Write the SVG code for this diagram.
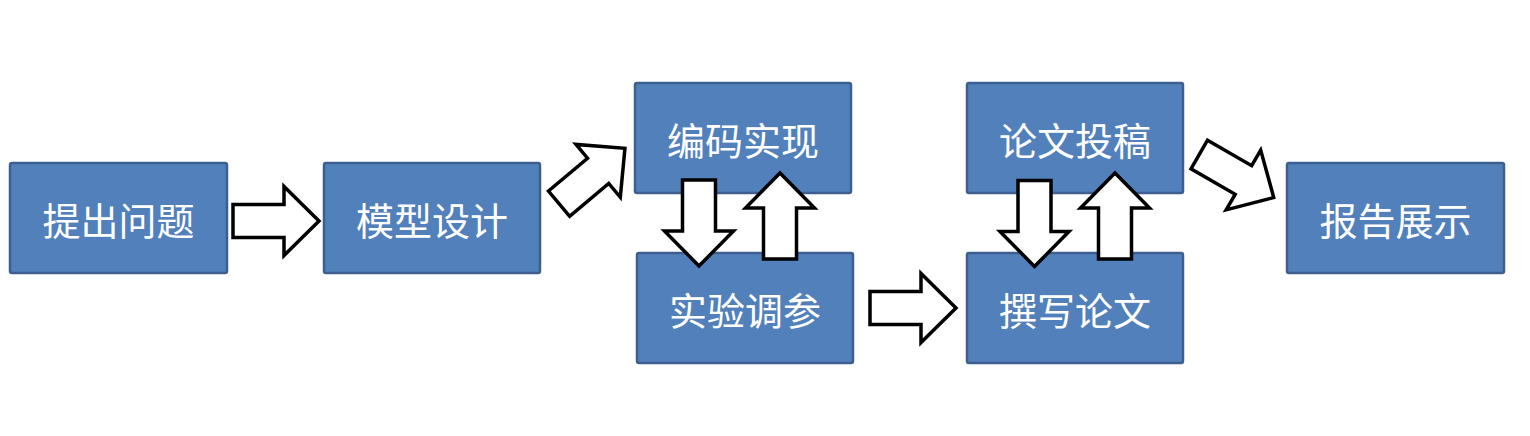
<svg xmlns="http://www.w3.org/2000/svg" xmlns:xlink="http://www.w3.org/1999/xlink" width="1530" height="436" viewBox="0 0 1530 436">
<style>
.box{fill:#5280bb;stroke:#3d5f8f;stroke-width:2.5}
.lbl{fill:#ffffff;font-family:"Noto Sans CJK SC","Noto Sans",sans-serif;font-size:38px;text-anchor:middle;dominant-baseline:central}
.arr{fill:#ffffff;stroke:#000000;stroke-width:3.5;stroke-linejoin:miter}
</style>
<defs>
<path id="blk" d="M-43,-16.5 H8 V-34.5 L43,0 L8,34.5 V16.5 H-43 Z"/>
</defs>
<rect width="1530" height="436" fill="#ffffff"/>
<g id="n1"><rect class="box" x="10" y="163" width="217" height="110" rx="2"/><text class="lbl" x="118.5" y="218">提出问题</text></g>
<g id="n2"><rect class="box" x="324" y="163" width="216" height="110" rx="2"/><text class="lbl" x="432" y="218">模型设计</text></g>
<g id="n3"><rect class="box" x="635" y="83" width="216" height="110" rx="2"/><text class="lbl" x="743" y="138">编码实现</text></g>
<g id="n4"><rect class="box" x="637" y="253" width="216" height="110" rx="2"/><text class="lbl" x="745" y="308">实验调参</text></g>
<g id="n5"><rect class="box" x="967" y="83" width="216" height="110" rx="2"/><text class="lbl" x="1075" y="138">论文投稿</text></g>
<g id="n6"><rect class="box" x="967" y="253" width="216" height="110" rx="2"/><text class="lbl" x="1075" y="308">撰写论文</text></g>
<g id="n7"><rect class="box" x="1287" y="163" width="217" height="110" rx="2"/><text class="lbl" x="1395.5" y="218">报告展示</text></g>
<g id="connectors">
<use xlink:href="#blk" class="arr" transform="translate(276,221)"/>
<use xlink:href="#blk" class="arr" transform="translate(592,176) rotate(-40)"/>
<use xlink:href="#blk" class="arr" transform="translate(699,223) rotate(90)"/>
<use xlink:href="#blk" class="arr" transform="translate(780,216) rotate(-90)"/>
<use xlink:href="#blk" class="arr" transform="translate(913,308)"/>
<use xlink:href="#blk" class="arr" transform="translate(1034.5,223.5) rotate(90)"/>
<use xlink:href="#blk" class="arr" transform="translate(1115,216) rotate(-90)"/>
<use xlink:href="#blk" class="arr" transform="translate(1236.5,176) rotate(30)"/>
</g>
</svg>
